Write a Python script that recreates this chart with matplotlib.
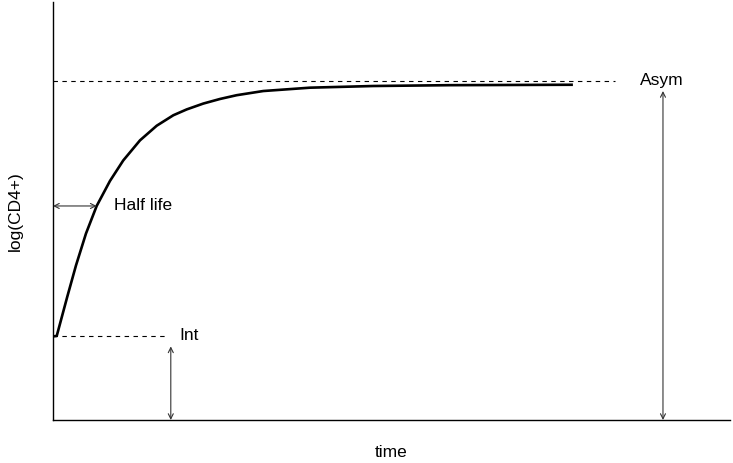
import matplotlib
matplotlib.use("Agg")
import matplotlib.pyplot as plt

plt.rcParams['font.family'] = ['Liberation Sans', 'DejaVu Sans']

# curve (arbitrary units, 0-100 on both axes)
time_pts = [0.0, 0.55, 2.11, 3.40, 4.87, 6.45, 8.42, 10.38, 12.85, 15.32, 17.77,
            19.75, 22.2, 24.67, 27.13, 31.06, 37.96, 47.3, 58.6, 76.6]
logcd4_pts = [20.0, 20.1, 29.5, 37.0, 44.6, 51.2, 57.2, 62.1, 66.9, 70.4, 72.9,
              74.3, 75.7, 76.8, 77.7, 78.7, 79.5, 79.9, 80.1, 80.2]

asym_level = 81.1
asym_line_end = 83.0
asym_arrow_x = 90.1
asym_arrow_top = 78.7

int_level = 20.2
int_line_end = 16.8
int_arrow_x = 17.4
int_arrow_top = 17.6

half_life_y = 51.2
half_life_x = 6.45

fig = plt.figure(figsize=(7.33, 4.63), dpi=100)
ax = fig.add_axes([0.0723, 0.0929, 0.9236, 0.9028])

ax.plot(time_pts, logcd4_pts, color="k", lw=1.9, solid_joinstyle="round")

ax.plot([0, asym_line_end], [asym_level, asym_level], color="k", lw=0.8, ls=(0, (4, 4)))
ax.plot([0, int_line_end], [int_level, int_level], color="k", lw=0.8, ls=(0, (4, 4)))

arrow = dict(arrowstyle="<->", lw=0.8, color="#333333", shrinkA=0, shrinkB=0,
             mutation_scale=9)
ax.annotate("", xy=(asym_arrow_x, asym_arrow_top), xytext=(asym_arrow_x, 0), arrowprops=arrow)
ax.annotate("", xy=(int_arrow_x, int_arrow_top), xytext=(int_arrow_x, 0), arrowprops=arrow)
ax.annotate("", xy=(0, half_life_y), xytext=(half_life_x, half_life_y), arrowprops=arrow)

ax.text(86.7, asym_level, "Asym", fontsize=12.5, va="center", ha="left")
ax.text(18.7, int_level, "Int", fontsize=12.5, va="center", ha="left")
ax.text(9.05, half_life_y, "Half life", fontsize=12.5, va="center", ha="left")

ax.set_xlim(0, 100)
ax.set_ylim(0, 100)
ax.set_xticks([])
ax.set_yticks([])
ax.spines["top"].set_visible(False)
ax.spines["right"].set_visible(False)
ax.spines["left"].set_linewidth(1.0)
ax.spines["bottom"].set_linewidth(1.0)

ax.set_xlabel("time", fontsize=12.5, labelpad=18)
ax.set_ylabel("log(CD4+)", fontsize=12.5, labelpad=22)

fig.savefig("out.png", dpi=100)
